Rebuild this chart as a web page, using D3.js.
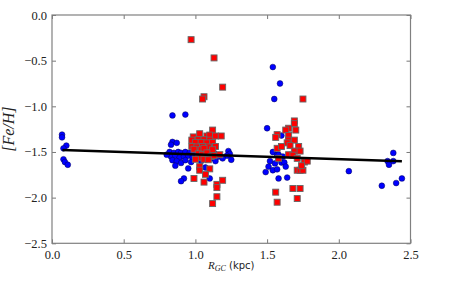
<!DOCTYPE html>
<html>
<head>
<meta charset="utf-8">
<script src="https://cdn.jsdelivr.net/npm/d3@7"></script>
<style>
  body { margin: 0; background: #fff; }
  svg { display: block; }
</style>
</head>
<body>
<div id="chart"></div>
<script>
// Chart size and margins
const WIDTH = 463;
const HEIGHT = 286;
const MARGIN = {top: 15, right: 52.5, bottom: 42.7, left: 52};

// Tick values
const X_TICKS = [0.0, 0.5, 1.0, 1.5, 2.0, 2.5];
const Y_TICKS = [0.0, -0.5, -1.0, -1.5, -2.0, -2.5];

// Blue circles: [R_GC, [Fe/H]]
const blueX = [0.07, 0.07, 0.10, 0.08, 0.08, 0.09, 0.11,
  0.84, 0.93, 0.84, 0.83, 0.87,
  0.82, 0.85, 0.88, 0.90, 0.93, 0.96, 0.99, 1.01, 1.05, 1.09, 1.13,
  0.83, 0.86, 0.89, 0.92, 0.95, 0.98, 1.02, 1.07, 1.11, 1.16,
  0.84, 0.87, 0.90, 0.93, 0.97, 1.04, 1.14,
  1.23, 1.24, 1.22, 1.25, 1.19,
  0.95, 0.92, 0.90, 1.07, 1.10, 0.86, 0.80,
  1.54, 1.59, 1.55, 1.50, 1.60,
  1.54, 1.57, 1.58, 1.61, 1.52, 1.555, 1.60, 1.62,
  1.51, 1.54, 1.57, 1.63, 1.49, 1.58, 1.64,
  2.07, 2.38, 2.34, 2.38, 2.35, 2.44, 2.40, 2.30];
const blueY = [-1.31, -1.34, -1.43, -1.46, -1.58, -1.61, -1.64,
  -1.10, -1.09, -1.39, -1.42, -1.40,
  -1.50, -1.51, -1.50, -1.51, -1.50, -1.51, -1.50, -1.52, -1.51, -1.52, -1.51,
  -1.55, -1.54, -1.56, -1.55, -1.54, -1.56, -1.57, -1.55, -1.57, -1.55,
  -1.59, -1.60, -1.62, -1.59, -1.61, -1.60, -1.60,
  -1.49, -1.52, -1.54, -1.585, -1.57,
  -1.68, -1.79, -1.82, -1.67, -1.79, -1.65, -1.53,
  -0.57, -0.75, -0.92, -1.24, -1.32,
  -1.50, -1.53, -1.53, -1.55, -1.60, -1.625, -1.615, -1.615,
  -1.66, -1.70, -1.69, -1.66, -1.72, -1.79, -1.78,
  -1.71, -1.51, -1.60, -1.60, -1.64, -1.79, -1.84, -1.87];

// Red squares: [R_GC, [Fe/H]]
const redX = [0.97, 1.13, 1.19, 1.06, 1.05, 1.12,
  1.03, 1.08, 1.10, 1.14, 1.18, 0.985,
  0.975, 1.02, 1.06, 1.10,
  1.00, 1.04, 1.08, 1.12,
  0.975, 1.01, 1.05, 1.09, 1.14,
  0.99, 1.04, 1.12, 1.06,
  1.02, 1.05, 1.08, 1.11, 1.13, 1.17,
  1.03, 1.06, 1.00, 1.09,
  1.03, 1.03, 1.10, 1.07, 0.99, 1.06,
  1.15, 1.15, 1.15, 1.12, 1.19,
  1.75, 1.69, 1.69, 1.65, 1.63, 1.70, 1.57, 1.56, 1.65, 1.65, 1.69, 1.64,
  1.57, 1.60, 1.66, 1.72, 1.69, 1.73,
  1.58, 1.65, 1.68, 1.71, 1.76, 1.78,
  1.71, 1.73, 1.75, 1.74,
  1.68, 1.73, 1.56, 1.71, 1.57];
const redY = [-0.27, -0.47, -0.79, -0.895, -0.92, -1.26,
  -1.30, -1.325, -1.315, -1.325, -1.325, -1.335,
  -1.37, -1.365, -1.365, -1.37,
  -1.395, -1.395, -1.40, -1.395,
  -1.44, -1.445, -1.44, -1.445, -1.44,
  -1.47, -1.475, -1.475, -1.46,
  -1.52, -1.53, -1.51, -1.55, -1.54, -1.53,
  -1.56, -1.58, -1.58, -1.585,
  -1.66, -1.70, -1.685, -1.745, -1.79, -1.83,
  -1.855, -1.89, -1.99, -2.065, -1.81,
  -0.92, -1.16, -1.19, -1.24, -1.26, -1.26, -1.31, -1.34, -1.32, -1.37, -1.37, -1.40,
  -1.46, -1.44, -1.43, -1.44, -1.49, -1.49,
  -1.57, -1.53, -1.535, -1.57, -1.61, -1.60,
  -1.70, -1.70, -1.70, -1.65,
  -1.90, -1.90, -1.94, -2.01, -2.05];

// Fitted line endpoints
const fitX = [0.072, 2.44];
const fitY = [-1.479, -1.602];

const innerW = WIDTH - MARGIN.left - MARGIN.right;
const innerH = HEIGHT - MARGIN.top - MARGIN.bottom;

let svg = d3.select("#chart")
            .append("svg")
            .attr("width", WIDTH)
            .attr("height", HEIGHT);

let g = svg.append("g")
           .attr("transform", `translate(${MARGIN.left},${MARGIN.top})`);

let x = d3.scaleLinear().domain([0, 2.5]).range([0, innerW]);
let y = d3.scaleLinear().domain([-2.5, 0]).range([innerH, 0]);

let fmt = d3.format(".1f");
const TICK_FONT = "Liberation Serif, DejaVu Serif, serif";

// Axes with inward ticks on all four sides
function styleAxis(sel) {
    sel.select(".domain").remove();
    sel.selectAll(".tick line").attr("stroke", "#555").attr("stroke-width", 0.8);
    sel.selectAll(".tick text")
       .style("font-family", TICK_FONT)
       .style("font-size", "12.5px")
       .attr("fill", "#222");
}

g.append("g")
 .attr("transform", `translate(0,${innerH})`)
 .call(d3.axisBottom(x).tickValues(X_TICKS).tickFormat(fmt).tickSizeInner(-4).tickSizeOuter(0).tickPadding(7))
 .call(styleAxis);

g.append("g")
 .call(d3.axisTop(x).tickValues(X_TICKS).tickFormat("").tickSizeInner(-4).tickSizeOuter(0))
 .call(styleAxis);

g.append("g")
 .call(d3.axisLeft(y).tickValues(Y_TICKS).tickFormat(fmt).tickSizeInner(-4).tickSizeOuter(0).tickPadding(5))
 .call(styleAxis);

g.append("g")
 .attr("transform", `translate(${innerW},0)`)
 .call(d3.axisRight(y).tickValues(Y_TICKS).tickFormat("").tickSizeInner(-4).tickSizeOuter(0))
 .call(styleAxis);

// Frame
g.append("rect")
 .attr("width", innerW)
 .attr("height", innerH)
 .attr("fill", "none")
 .attr("stroke", "#808080")
 .attr("stroke-width", 1.2);

// Blue circles
g.append("g")
 .selectAll("circle")
 .data(d3.range(blueX.length))
 .join("circle")
 .attr("cx", i => x(blueX[i]))
 .attr("cy", i => y(blueY[i]))
 .attr("r", 2.9)
 .attr("fill", "#0000ff")
 .attr("stroke", "#000055")
 .attr("stroke-width", 0.5);

// Red squares
const SQ = 6;
g.append("g")
 .selectAll("rect")
 .data(d3.range(redX.length))
 .join("rect")
 .attr("x", i => x(redX[i]) - SQ / 2)
 .attr("y", i => y(redY[i]) - SQ / 2)
 .attr("width", SQ)
 .attr("height", SQ)
 .attr("fill", "#ff0000")
 .attr("stroke", "#666")
 .attr("stroke-width", 0.9);

// Fit line
let line = d3.line()
             .x(d => x(d[0]))
             .y(d => y(d[1]));

g.append("path")
 .datum(d3.zip(fitX, fitY))
 .attr("fill", "none")
 .attr("stroke", "#000")
 .attr("stroke-width", 2.5)
 .attr("d", line);

// Axis labels
let xl = svg.append("text")
            .attr("x", MARGIN.left + innerW / 2)
            .attr("y", 269)
            .attr("text-anchor", "middle")
            .attr("fill", "#222");
xl.append("tspan")
  .style("font-family", "Liberation Serif, serif")
  .attr("font-style", "italic")
  .attr("font-size", 11)
  .text("R");
xl.append("tspan")
  .style("font-family", "Liberation Serif, serif")
  .attr("font-style", "italic")
  .attr("font-size", 8)
  .attr("dy", 2)
  .text("GC");
xl.append("tspan")
  .style("font-family", "DejaVu Sans, sans-serif")
  .attr("font-size", 10)
  .attr("dy", -2)
  .text(" (kpc)");

svg.append("text")
   .attr("transform", `translate(14,${MARGIN.top + innerH / 2}) rotate(-90)`)
   .attr("text-anchor", "middle")
   .style("font-family", "Liberation Serif, serif")
   .attr("font-style", "italic")
   .attr("font-size", 16)
   .attr("fill", "#222")
   .text("[Fe/H]");
</script>
</body>
</html>
